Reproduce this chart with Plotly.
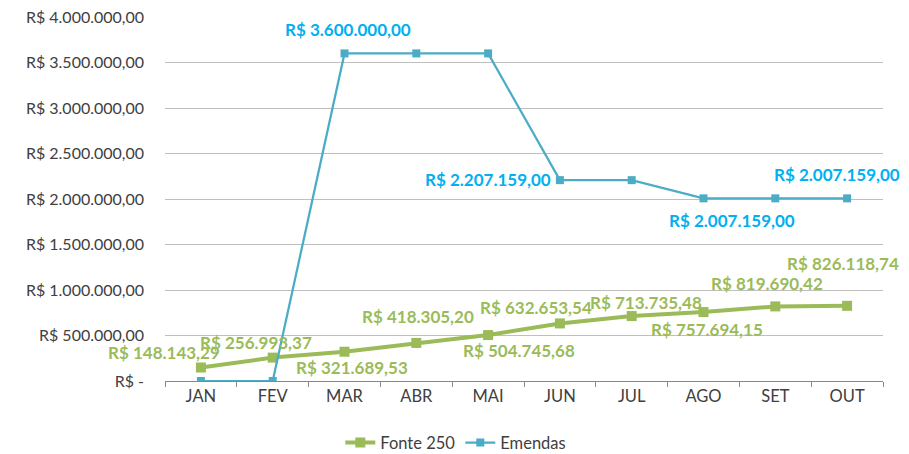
import plotly.graph_objects as go

months = ["JAN", "FEV", "MAR", "ABR", "MAI", "JUN", "JUL", "AGO", "SET", "OUT"]
fonte250 = [148143.29, 256993.37, 321689.53, 418305.20, 504745.68,
            632653.54, 713735.48, 757694.15, 819690.42, 826118.74]
emendas = [0, 0, 3600000, 3600000, 3600000, 2207159, 2207159, 2007159, 2007159, 2007159]
tick_vals = [0, 500000, 1000000, 1500000, 2000000, 2500000, 3000000, 3500000, 4000000]
tick_text = ["R$ -", "R$ 500.000,00", "R$ 1.000.000,00", "R$ 1.500.000,00",
             "R$ 2.000.000,00", "R$ 2.500.000,00", "R$ 3.000.000,00",
             "R$ 3.500.000,00", "R$ 4.000.000,00"]

GREEN = "#9BBB59"
BLUE = "#4BACC6"
BLUE_LBL = "#00B0F0"
FONT = "Lato"


def brl(v):
    s = f"{v:,.2f}"
    s = s.replace(",", "X").replace(".", ",").replace("X", ".")
    return "R$ " + s


fig = go.Figure()
fig.add_trace(go.Scatter(
    x=months, y=fonte250, name="Fonte 250", mode="lines+markers",
    line=dict(color=GREEN, width=4), marker=dict(symbol="square", size=10, color=GREEN)))
fig.add_trace(go.Scatter(
    x=months, y=emendas, name="Emendas", mode="lines+markers",
    line=dict(color=BLUE, width=2.25), marker=dict(symbol="square", size=8, color=BLUE)))

# label offsets (pixel shifts) for Fonte 250
g_shift = [(-37, 15), (-17, 15), (7, -16), (2, 26), (31, -15),
           (-24, 16), (14, 14), (3, -17), (-8, 23), (-4, 42)]
annos = []
for i, (dx, dy) in enumerate(g_shift):
    annos.append(dict(x=months[i], y=fonte250[i], text=brl(fonte250[i]), showarrow=False,
                      xshift=dx, yshift=dy, font=dict(family=FONT, size=17, color=GREEN, weight="bold")))

# Emendas labels
e_labels = [(2, "center", 3, 24), (5, "right", -7, 1), (7, "center", 28, -22), (8, "left", -3, 24)]
for i, xa, dx, dy in e_labels:
    annos.append(dict(x=months[i], y=emendas[i], text=brl(emendas[i]), showarrow=False,
                      xanchor=xa, xshift=dx, yshift=dy,
                      font=dict(family=FONT, size=17, color=BLUE_LBL, weight="bold")))

# the page body adds an 8px margin, so the figure is sized to fit the window
fig.update_layout(
    width=901, height=446,
    margin=dict(l=157, r=26, t=9, b=73, autoexpand=False),
    paper_bgcolor="white", plot_bgcolor="white",
    font=dict(family=FONT, size=16.5, color="#404040"),
    showlegend=True,
    legend=dict(orientation="h", x=0.405, xanchor="center", y=-0.17, yanchor="middle",
                font=dict(family=FONT, size=16.5, color="#404040")),
    annotations=annos,
    xaxis=dict(type="category", range=[-0.5, 9.5], showgrid=False,
               showline=True, linecolor="#868686", linewidth=1,
               ticks="outside", ticklen=5, tickcolor="#868686", tickson="boundaries",
               tickfont=dict(family=FONT, size=16.5, color="#404040")),
    yaxis=dict(range=[0, 4000000], tickvals=tick_vals, ticktext=tick_text,
               showgrid=True, gridcolor="#BFBFBF", gridwidth=1, zeroline=False,
               ticks="", ticklabelstandoff=20, ticklabeloverflow="allow",
               tickfont=dict(family=FONT, size=16, color="#404040")),
)

fig.write_html("out.html")
